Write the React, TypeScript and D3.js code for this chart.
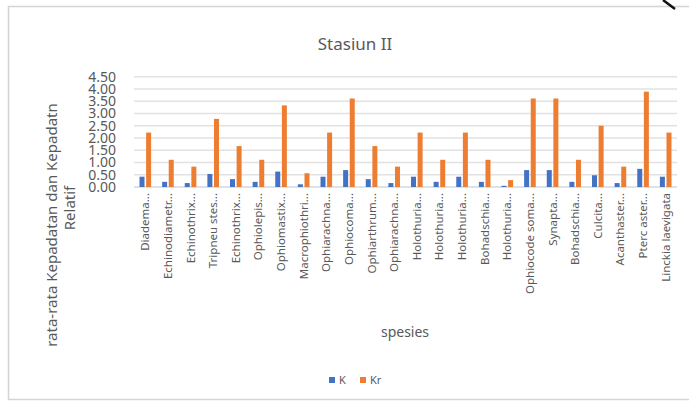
import React from "react";
import * as d3 from "d3";

// Species along the x axis (labels as shown, truncated)
const species = [
  "Diadema...",
  "Echinodiametr...",
  "Echinothrix...",
  "Tripneu stes...",
  "Echinothrix...",
  "Ophiolepis...",
  "Ophiomastix...",
  "Macrophiothri...",
  "Ophiarachna...",
  "Ophiocoma...",
  "Ophiarthrum...",
  "Ophiarachna...",
  "Holothuria...",
  "Holothuria...",
  "Holothuria...",
  "Bohadschia...",
  "Holothuria...",
  "Ophiocode soma...",
  "Synapta...",
  "Bohadschia...",
  "Culcita...",
  "Acanthaster...",
  "Pterc aster...",
  "Linckia laevigata",
];

// K: mean density
const kValues = [
  0.42, 0.21, 0.16, 0.53, 0.32, 0.21, 0.63, 0.11, 0.42, 0.69, 0.32, 0.16,
  0.42, 0.21, 0.42, 0.21, 0.05, 0.69, 0.69, 0.21, 0.48, 0.16, 0.74, 0.42,
];

// Kr: relative density
const krValues = [
  2.22, 1.11, 0.83, 2.78, 1.67, 1.11, 3.33, 0.56, 2.22, 3.61, 1.67, 0.83,
  2.22, 1.11, 2.22, 1.11, 0.28, 3.61, 3.61, 1.11, 2.5, 0.83, 3.89, 2.22,
];

const yTicks = [0, 0.5, 1, 1.5, 2, 2.5, 3, 3.5, 4, 4.5];

const seriesNames = ["K", "Kr"];
const seriesColors = ["#4472C4", "#ED7D31"];

const W = 689;
const H = 407;
const plot = { left: 134, right: 677, top: 76.7, bottom: 187 };
const font = "'Noto Sans', 'Open Sans', sans-serif";
const textColor = "#595959";

export default function App() {
  const x = d3
    .scaleBand<string>()
    .domain(species.map((s, i) => `${i}`))
    .range([plot.left, plot.right])
    .padding(0);
  const y = d3.scaleLinear().domain([0, 4.5]).range([plot.bottom, plot.top]);
  const barW = 5;
  const fmt = d3.format(".2f");

  return (
    <svg
      width={W}
      height={H}
      style={{ position: "absolute", left: 0, top: 0, background: "#fff" }}
      fontFamily={font}
    >
      {/* chart frame */}
      <rect x={8.5} y={6.5} width={720} height={393} fill="#fff" stroke="#d4d4d4" strokeWidth={1.5} />
      <path d="M663,0 L675,9" stroke="#111" strokeWidth={2.5} fill="none" />

      {/* title */}
      <text x={355} y={50} textAnchor="middle" fontSize={17} fill={textColor}>
        Stasiun II
      </text>

      {/* gridlines */}
      {yTicks.map((t) => (
        <line
          key={t}
          x1={plot.left}
          x2={plot.right}
          y1={y(t)}
          y2={y(t)}
          stroke={t === 0 ? "#cfd8e6" : "#e2e2e2"}
          strokeWidth={1.5}
        />
      ))}

      {/* y tick labels */}
      {yTicks.map((t) => (
        <text
          key={t}
          x={116}
          y={y(t) + 5}
          textAnchor="end"
          fontSize={14}
          fill={textColor}
        >
          {fmt(t)}
        </text>
      ))}

      {/* bars */}
      {species.map((s, i) => {
        const c = (x(`${i}`) as number) + x.bandwidth() / 2;
        return (
          <g key={i}>
            <rect
              x={c - 3.3 - barW / 2}
              y={y(kValues[i])}
              width={barW}
              height={plot.bottom - y(kValues[i])}
              fill={seriesColors[0]}
            />
            <rect
              x={c + 3.3 - barW / 2}
              y={y(krValues[i])}
              width={barW}
              height={plot.bottom - y(krValues[i])}
              fill={seriesColors[1]}
            />
          </g>
        );
      })}

      {/* x labels */}
      {species.map((s, i) => {
        const c = (x(`${i}`) as number) + x.bandwidth() / 2;
        return (
          <text
            key={i}
            transform={`translate(${c + 4},${plot.bottom + 6}) rotate(-90)`}
            textAnchor="end"
            fontSize={11.5}
            fill={textColor}
          >
            {s}
          </text>
        );
      })}

      {/* axis titles */}
      <text
        transform="translate(57,225) rotate(-90)"
        textAnchor="middle"
        fontSize={15}
        fill={textColor}
      >
        rata-rata Kepadatan dan Kepadatn
      </text>
      <text
        transform="translate(75,208) rotate(-90)"
        textAnchor="middle"
        fontSize={15}
        fill={textColor}
      >
        Relatif
      </text>
      <text x={405} y={337} textAnchor="middle" fontSize={14} fill={textColor}>
        spesies
      </text>

      {/* legend */}
      {seriesNames.map((n, i) => (
        <g key={n} transform={`translate(${329 + i * 31},377)`}>
          <rect x={0} y={0} width={6} height={6} fill={seriesColors[i]} />
          <text x={10} y={7} fontSize={11} fill={textColor}>
            {n}
          </text>
        </g>
      ))}
    </svg>
  );
}
